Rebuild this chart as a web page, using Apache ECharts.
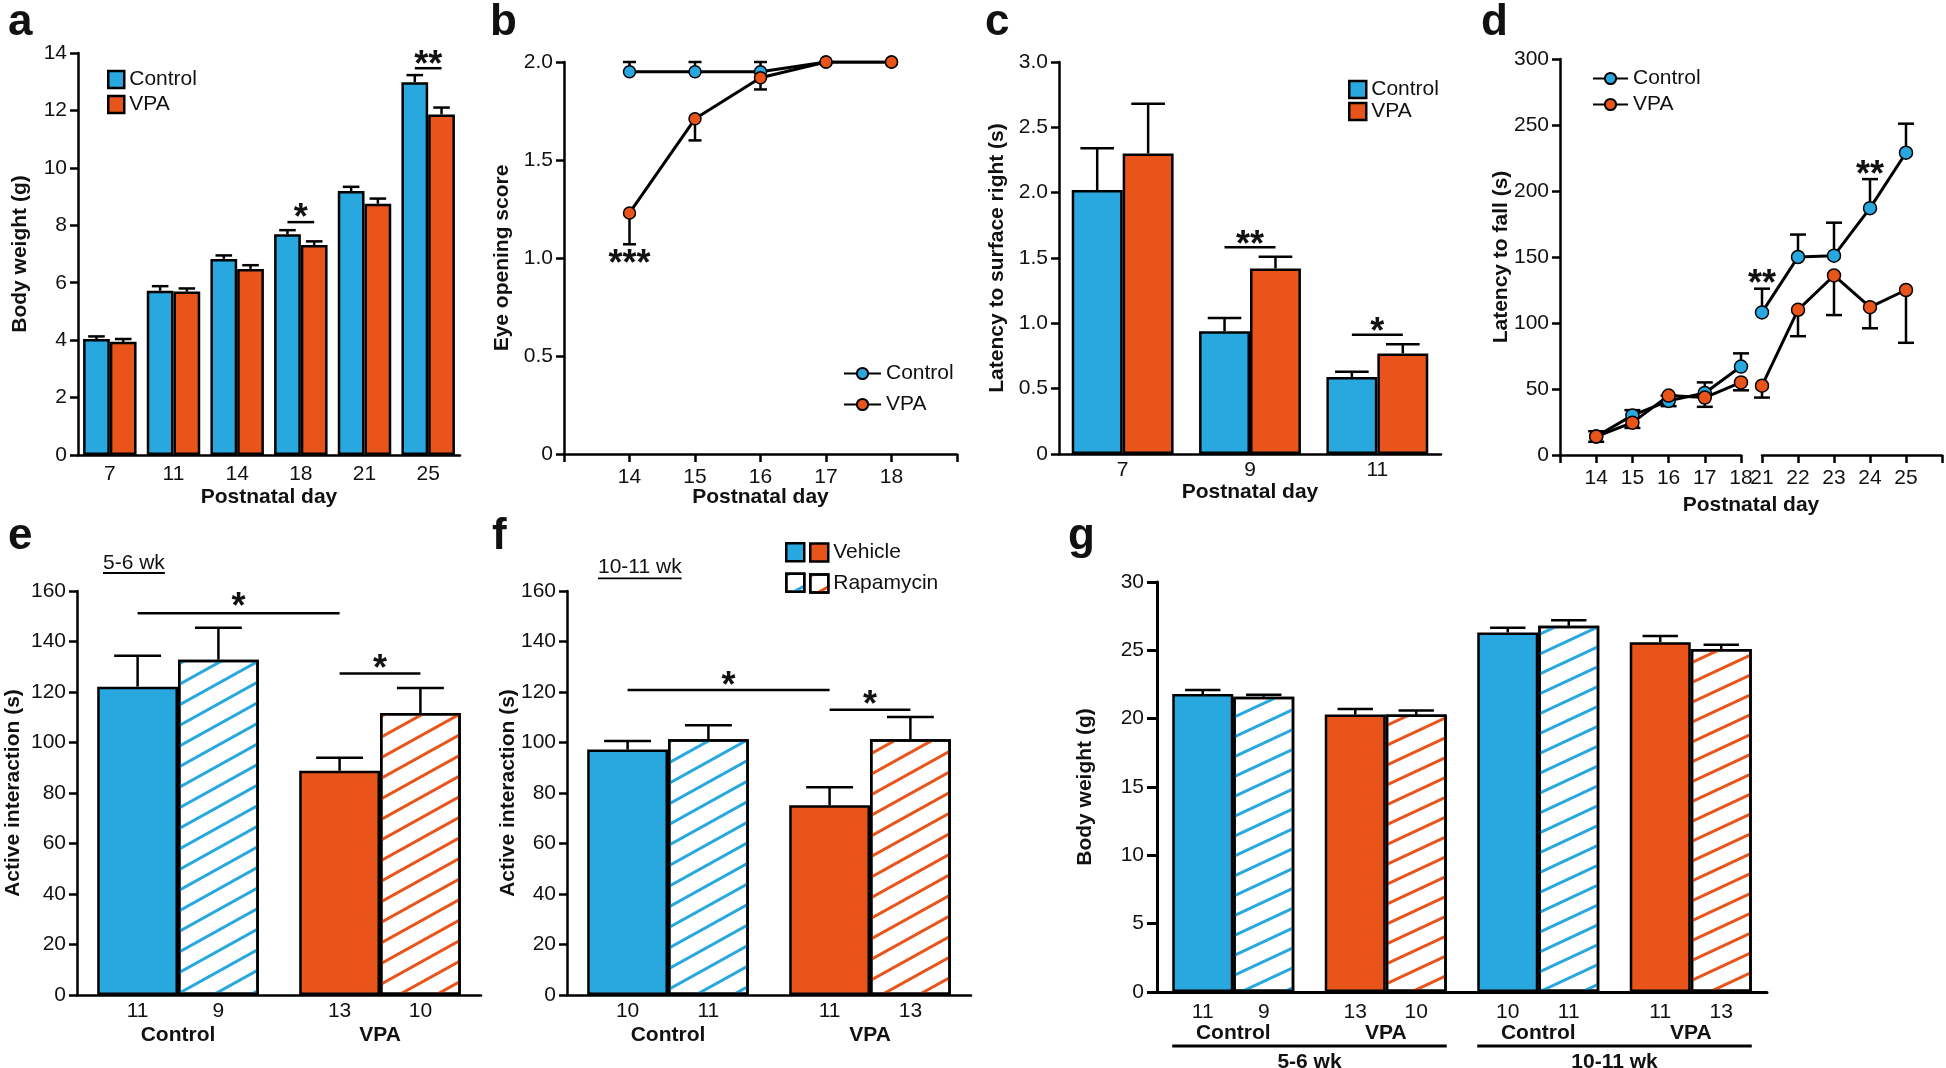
<!DOCTYPE html>
<html>
<head>
<meta charset="utf-8">
<script src="https://cdn.jsdelivr.net/npm/echarts@6/dist/echarts.min.js"></script>
<style>html,body{margin:0;padding:0;background:#fff}#c{width:1946px;height:1068px}</style>
</head>
<body>
<div id="c"></div>
<script>
// ================= DATA =================
// a: body weight by postnatal day
const aDays = ['7', '11', '14', '18', '21', '25'];
const aControl = [4.04, 5.72, 6.83, 7.69, 9.19, 12.98];
const aControlSem = [0.09, 0.16, 0.12, 0.14, 0.15, 0.25];
const aVPA = [3.94, 5.69, 6.48, 7.31, 8.75, 11.86];
const aVPASem = [0.10, 0.11, 0.13, 0.13, 0.18, 0.24];
// b: eye opening score
const bDays = [14, 15, 16, 17, 18];
const bControl = [1.95, 1.95, 1.95, 2.0, 2.0];
const bControlSem = [0.05, 0.05, 0.05, 0, 0];
const bVPA = [1.23, 1.71, 1.92, 2.0, 2.0];
const bVPASem = [0.16, 0.11, 0.06, 0, 0];
// c: latency to surface right
const cDays = ['7', '9', '11'];
const cControl = [2.02, 0.94, 0.59];
const cControlSem = [0.32, 0.10, 0.04];
const cVPA = [2.30, 1.42, 0.77];
const cVPASem = [0.38, 0.09, 0.07];
// d: latency to fall
const dDaysEarly = [14, 15, 16, 17, 18];
const dDaysLate = [21, 22, 23, 24, 25];
const dControlEarly = [14, 30, 41, 47, 67];
const dControlEarlySem = [4, 4, 4, 8, 10];
const dControlLate = [108, 150, 151, 187, 229];
const dControlLateSem = [18, 17, 25, 22, 22];
const dVPAEarly = [14, 24.5, 45, 43.5, 55];
const dVPAEarlySem = [4, 4, 8, 7, 6];
const dVPALate = [52.5, 110, 136, 112, 125];
const dVPALateSem = [9, 20, 30, 16, 40];
// e: active interaction, 5-6 wk
const eGroups = ['Control', 'VPA'];
const eVehicle = [122.1, 88.8];
const eVehicleSem = [12.3, 5.2];
const eRapa = [132.8, 111.7];
const eRapaSem = [12.6, 9.9];
const eNVehicle = [11, 13];
const eNRapa = [9, 10];
// f: active interaction, 10-11 wk
const fGroups = ['Control', 'VPA'];
const fVehicle = [97.2, 75.1];
const fVehicleSem = [3.4, 7.2];
const fRapa = [101.3, 101.3];
const fRapaSem = [5.5, 8.8];
const fNVehicle = [10, 11];
const fNRapa = [11, 13];
// g: body weight
const gGroups = ['Control', 'VPA', 'Control', 'VPA'];
const gAges = ['5-6 wk', '10-11 wk'];
const gVehicle = [21.8, 20.3, 26.3, 25.6];
const gVehicleSem = [0.3, 0.4, 0.35, 0.45];
const gRapa = [21.6, 20.3, 26.8, 25.1];
const gRapaSem = [0.15, 0.3, 0.4, 0.3];
const gNVehicle = [11, 13, 10, 11];
const gNRapa = [9, 10, 11, 13];

// ================= STYLE =================
const FONT = "'Liberation Sans', Arial, Helvetica, sans-serif";
const BLUE = '#29a8e0', ORANGE = '#e8541a', INK = '#111', BLK = '#000', LW = 2.5;
const STAR = 36;
const groupColor = g => g === 'Control' ? BLUE : ORANGE;

const lbl = extra => Object.assign({fontSize: 21, color: INK, fontFamily: FONT}, extra || {});
const nameStyle = {fontSize: 21, fontWeight: 'bold', color: INK, fontFamily: FONT};
const aLine = w => ({show: true, onZero: false, lineStyle: {color: BLK, width: w || LW}});
const fmt1 = v => v === 0 ? '0' : v.toFixed(1);

function valY(gi, max, interval, opts) {
  return Object.assign({
    type: 'value', gridIndex: gi, min: 0, max: max, interval: interval,
    axisLine: aLine(), axisTick: {show: true, length: 8, lineStyle: {color: BLK, width: LW}},
    axisLabel: lbl({margin: 11}), splitLine: {show: false},
    nameLocation: 'middle', nameTextStyle: nameStyle, nameMoveOverlap: false
  }, opts || {});
}
function catX(gi, data, margin, bold, opts) {
  return Object.assign({
    type: 'category', gridIndex: gi, data: data, boundaryGap: true,
    axisLine: aLine(), axisTick: {show: false},
    axisLabel: lbl({margin: margin, interval: 0, fontWeight: bold ? 'bold' : 'normal'}),
    splitLine: {show: false}, nameLocation: 'middle', nameTextStyle: nameStyle, nameMoveOverlap: false
  }, opts || {});
}
function valX(gi, min, max, fmt, opts) {
  return Object.assign({
    type: 'value', gridIndex: gi, min: min, max: max, interval: 1,
    axisLine: aLine(), axisTick: {show: true, length: 8, lineStyle: {color: BLK, width: LW}},
    axisLabel: lbl({margin: 13, formatter: fmt}), splitLine: {show: false},
    nameLocation: 'middle', nameTextStyle: nameStyle, nameMoveOverlap: false
  }, opts || {});
}

// ---------- series helpers ----------
function barSeries(name, xi, yi, data, color, gap, extra) {
  return Object.assign({
    type: 'bar', name: name, xAxisIndex: xi, yAxisIndex: yi, data: data,
    barGap: '0%', barCategoryGap: gap + '%', silent: true, z: 2,
    itemStyle: {color: color, borderColor: BLK, borderWidth: LW}
  }, extra || {});
}
function barErr(xi, yi, means, sems, slot, nSlots, gapPct, capFrac) {
  const data = [];
  means.forEach((m, i) => { if (typeof m === 'number') data.push([i, m, m + sems[i]]); });
  const gap = gapPct / 100;
  return {
    type: 'custom', xAxisIndex: xi, yAxisIndex: yi, data: data, z: 3, silent: true,
    encode: {x: 0, y: [1, 2]},
    renderItem: function (params, api) {
      const cat = api.value(0);
      const p0 = api.coord([cat, api.value(1)]), p1 = api.coord([cat, api.value(2)]);
      const band = api.size([1, 0])[0];
      const used = band * (1 - gap), bw = used / nSlots;
      const x = p0[0] - used / 2 + bw * (slot + 0.5);
      const cw = bw * capFrac / 2;
      return {type: 'group', children: [
        {type: 'line', shape: {x1: x, y1: p0[1], x2: x, y2: p1[1]}, style: {stroke: BLK, lineWidth: LW}},
        {type: 'line', shape: {x1: x - cw, y1: p1[1], x2: x + cw, y2: p1[1]}, style: {stroke: BLK, lineWidth: LW}}
      ]};
    }
  };
}
function lineSeries(name, xi, yi, xs, vals, color, size) {
  return {
    type: 'line', name: name, xAxisIndex: xi, yAxisIndex: yi, silent: true, z: 4,
    data: xs.map((x, i) => [x, vals[i]]),
    symbol: 'circle', symbolSize: size, showSymbol: true,
    lineStyle: {color: BLK, width: 3},
    itemStyle: {color: color, borderColor: BLK, borderWidth: 1.5}
  };
}
function lineErr(xi, yi, xs, vals, sems, dir, capPx) {
  const data = [];
  xs.forEach((x, i) => { if (sems[i] > 0) data.push([x, vals[i], vals[i] + dir * sems[i]]); });
  return {
    type: 'custom', xAxisIndex: xi, yAxisIndex: yi, data: data, z: 3, silent: true,
    encode: {x: 0, y: [1, 2]},
    renderItem: function (params, api) {
      const p0 = api.coord([api.value(0), api.value(1)]), p1 = api.coord([api.value(0), api.value(2)]);
      return {type: 'group', children: [
        {type: 'line', shape: {x1: p0[0], y1: p0[1], x2: p1[0], y2: p1[1]}, style: {stroke: BLK, lineWidth: LW}},
        {type: 'line', shape: {x1: p1[0] - capPx / 2, y1: p1[1], x2: p1[0] + capPx / 2, y2: p1[1]}, style: {stroke: BLK, lineWidth: LW}}
      ]};
    }
  };
}
function hatch(color, deg) {
  return {symbol: 'rect', symbolSize: 1, color: color, dashArrayX: [1, 0], dashArrayY: [3, 15],
          rotation: -deg * Math.PI / 180};
}
// treatment panels: vehicle (solid) and rapamycin (hatched) per group
function treatSeries(prefix, xi, yi, groups, veh, vehSem, rapa, rapaSem, nVeh, nRapa, gap, deg, labelOffset) {
  const out = [];
  const nLabel = arr => ({
    show: true, position: ['50%', '100%'], offset: [0, labelOffset], align: 'center', verticalAlign: 'middle',
    fontSize: 21, color: INK, fontFamily: FONT, formatter: p => String(arr[p.dataIndex])
  });
  [[BLUE, 'B'], [ORANGE, 'O']].forEach(([col, key]) => {
    const vData = veh.map((v, i) => groupColor(groups[i]) === col ? v : '-');
    const rData = rapa.map((v, i) => groupColor(groups[i]) === col ? v : '-');
    out.push(barSeries(prefix + 'V' + key, xi, yi, vData, col, gap, {stack: prefix + 'veh', label: nLabel(nVeh)}));
    out.push(barSeries(prefix + 'R' + key, xi, yi, rData, '#fff', gap, {
      stack: prefix + 'rapa', label: nLabel(nRapa),
      itemStyle: {color: '#fff', borderColor: BLK, borderWidth: LW, decal: hatch(col, deg)}
    }));
  });
  out.push(barErr(xi, yi, veh, vehSem, 0, 2, gap, 0.58));
  out.push(barErr(xi, yi, rapa, rapaSem, 1, 2, gap, 0.58));
  return out;
}

// ================= OPTION =================
const grid = [
  {left: 78, top: 53, width: 382, height: 402},    // a
  {left: 564, top: 62, width: 393, height: 392},   // b
  {left: 1059, top: 62, width: 382, height: 392},  // c
  {left: 1560, top: 59, width: 181, height: 396},  // d early
  {left: 1762, top: 59, width: 180, height: 396},  // d late
  {left: 77, top: 591, width: 404, height: 404},   // e
  {left: 567, top: 591, width: 404, height: 404},  // f
  {left: 1157, top: 582, width: 610, height: 410}  // g
].map(g => Object.assign({containLabel: false, outerBoundsMode: 'none'}, g));

const xAxis = [
  catX(0, aDays, 9, false, {name: 'Postnatal day', nameGap: 32}),
  valX(1, 13, 19, v => (v >= 14 && v <= 18) ? String(v) : '', {name: 'Postnatal day', nameGap: 33}),
  catX(2, cDays, 6, false, {name: 'Postnatal day', nameGap: 28}),
  valX(3, 13, 18, v => v >= 14 ? String(v) : ''),
  valX(4, 21, 26, v => v <= 25 ? String(v) : ''),
  catX(5, eGroups, 29.5, true),
  catX(6, fGroups, 29.5, true),
  catX(7, gGroups, 31, true, {position: 'bottom', axisLine: aLine(3)}),
  catX(7, gAges, 60, true, {position: 'bottom', axisLine: {show: false}})
];
const yAxis = [
  valY(0, 14, 2, {name: 'Body weight (g)', nameGap: 47}),
  valY(1, 2, 0.5, {name: 'Eye opening score', nameGap: 51, axisLabel: lbl({margin: 11, formatter: fmt1})}),
  valY(2, 3, 0.5, {name: 'Latency to surface right (s)', nameGap: 51, axisLabel: lbl({margin: 11, formatter: fmt1})}),
  valY(3, 300, 50, {name: 'Latency to fall (s)', nameGap: 48}),
  {type: 'value', gridIndex: 4, min: 0, max: 300, show: false},
  valY(5, 160, 20, {name: 'Active interaction (s)', nameGap: 53}),
  valY(6, 160, 20, {name: 'Active interaction (s)', nameGap: 48}),
  valY(7, 30, 5, {name: 'Body weight (g)', nameGap: 61, axisLine: aLine(3),
    axisTick: {show: true, length: 10, lineStyle: {color: BLK, width: 3}}, axisLabel: lbl({margin: 13})})
];

const series = [].concat(
  // a
  barSeries('Control', 0, 0, aControl, BLUE, 16),
  barSeries('VPA', 0, 0, aVPA, ORANGE, 16),
  barErr(0, 0, aControl, aControlSem, 0, 2, 16, 0.62),
  barErr(0, 0, aVPA, aVPASem, 1, 2, 16, 0.62),
  // b
  lineErr(1, 1, bDays, bControl, bControlSem, 1, 13),
  lineErr(1, 1, bDays, bVPA, bVPASem, -1, 13),
  lineSeries('Control ', 1, 1, bDays, bControl, BLUE, 12),
  lineSeries('VPA ', 1, 1, bDays, bVPA, ORANGE, 12),
  // c
  barSeries('Control  ', 2, 2, cControl, BLUE, 20),
  barSeries('VPA  ', 2, 2, cVPA, ORANGE, 20),
  barErr(2, 2, cControl, cControlSem, 0, 2, 20, 0.66),
  barErr(2, 2, cVPA, cVPASem, 1, 2, 20, 0.66),
  // d
  lineErr(3, 3, dDaysEarly, dControlEarly, dControlEarlySem, 1, 16),
  lineErr(4, 4, dDaysLate, dControlLate, dControlLateSem, 1, 16),
  lineErr(3, 3, dDaysEarly, dVPAEarly, dVPAEarlySem, -1, 16),
  lineErr(4, 4, dDaysLate, dVPALate, dVPALateSem, -1, 16),
  lineSeries('Control   ', 3, 3, dDaysEarly, dControlEarly, BLUE, 13),
  lineSeries('Control   ', 4, 4, dDaysLate, dControlLate, BLUE, 13),
  lineSeries('VPA   ', 3, 3, dDaysEarly, dVPAEarly, ORANGE, 13),
  lineSeries('VPA   ', 4, 4, dDaysLate, dVPALate, ORANGE, 13),
  // e, f, g
  treatSeries('e', 5, 5, eGroups, eVehicle, eVehicleSem, eRapa, eRapaSem, eNVehicle, eNRapa, 20, 29, 16),
  treatSeries('f', 6, 6, fGroups, fVehicle, fVehicleSem, fRapa, fRapaSem, fNVehicle, fNRapa, 20, 29, 16),
  treatSeries('g', 7, 7, gGroups, gVehicle, gVehicleSem, gRapa, gRapaSem, gNVehicle, gNRapa, 20, 25, 20)
);

const trim = n => n.trim();
const legTxt = lh => ({fontSize: 21, color: INK, fontFamily: FONT, lineHeight: lh});
const legend = [
  {data: ['Control', 'VPA'], left: 107, top: 69, orient: 'vertical', padding: 0, selectedMode: false, icon: 'rect',
   itemWidth: 16, itemHeight: 17, itemGap: 4, textStyle: legTxt(17), itemStyle: {borderColor: BLK, borderWidth: LW}},
  {data: ['Control ', 'VPA '], left: 843, top: 363, orient: 'vertical', padding: 0, selectedMode: false,
   itemWidth: 37, itemHeight: 14, itemGap: 10, textStyle: legTxt(21), formatter: trim},
  {data: ['Control  ', 'VPA  '], left: 1348, top: 79, orient: 'vertical', padding: 0, selectedMode: false, icon: 'rect',
   itemWidth: 17, itemHeight: 17, itemGap: 1, textStyle: legTxt(17), formatter: trim, itemStyle: {borderColor: BLK, borderWidth: LW}},
  {data: ['Control   ', 'VPA   '], left: 1592, top: 68, orient: 'vertical', padding: 0, selectedMode: false,
   itemWidth: 35, itemHeight: 14, itemGap: 5, textStyle: legTxt(21), formatter: trim},
  {data: ['fVB', 'fRB'], left: 785, top: 542, orient: 'vertical', padding: 0, selectedMode: false, icon: 'rect',
   itemWidth: 18, itemHeight: 18, itemGap: 10, textStyle: legTxt(18), formatter: () => '',
   itemStyle: {borderColor: BLK, borderWidth: LW}},
  {data: ['fVO', 'fRO'], left: 809, top: 542, orient: 'vertical', padding: 0, selectedMode: false, icon: 'rect',
   itemWidth: 18, itemHeight: 18, itemGap: 10, textStyle: legTxt(18),
   formatter: n => ({fVO: 'Vehicle', fRO: 'Rapamycin'})[n], itemStyle: {borderColor: BLK, borderWidth: LW}}
];

const option = {
  animation: false, backgroundColor: '#fff',
  textStyle: {fontFamily: FONT},
  grid: grid, xAxis: xAxis, yAxis: yAxis, series: series, legend: legend
};

const chart = echarts.init(document.getElementById('c'), null, {renderer: 'canvas', width: 1946, height: 1068});
chart.setOption(option);

// ================= ANNOTATIONS (positioned through the axes) =================
const X = (xi, v) => chart.convertToPixel({xAxisIndex: xi}, v);
const Y = (yi, v) => chart.convertToPixel({yAxisIndex: yi}, v);
function slotGeom(xi, cat, slot, nSlots, gapPct) {
  const band = X(xi, 1) - X(xi, 0);
  const used = band * (1 - gapPct / 100), bw = used / nSlots;
  const c = X(xi, cat) - used / 2 + bw * (slot + 0.5);
  return {c: c, l: c - bw / 2, r: c + bw / 2};
}
const G = [];
const starY = y => y + 0.24 * STAR;
function star(x, y, text) {
  G.push({type: 'text', x: x, y: starY(y), silent: true, z: 10,
    style: {text: text, fontSize: STAR, fontWeight: 'bold', fontFamily: FONT, fill: INK, align: 'center', verticalAlign: 'middle'}});
}
function hline(x1, x2, y, w) {
  G.push({type: 'line', silent: true, z: 10, shape: {x1: x1, y1: y, x2: x2, y2: y}, style: {stroke: BLK, lineWidth: w || LW}});
}
function bracket(xi, yi, gapPct, from, to, lineV, text, starV) {
  const x1 = slotGeom(xi, from[0], from[1], 2, gapPct).c, x2 = slotGeom(xi, to[0], to[1], 2, gapPct).c;
  hline(x1, x2, Y(yi, lineV));
  star((x1 + x2) / 2, Y(yi, starV), text);
}
function text(str, x, y, size, bold, align) {
  G.push({type: 'text', x: x, y: y, silent: true, z: 10,
    style: {text: str, fontSize: size, fontWeight: bold ? 'bold' : 'normal', fontFamily: FONT, fill: INK,
            align: align || 'left', verticalAlign: 'middle'}});
}
const measure = (() => { const ctx = document.createElement('canvas').getContext('2d');
  return (str, size, bold) => { ctx.font = (bold ? 'bold ' : '') + size + 'px ' + FONT; return ctx.measureText(str).width; }; })();
function letter(ch, x, baseline) { text(ch, x, baseline - 0.3465 * 44, 44, true, 'left'); }

// significance
bracket(0, 0, 16, [3, 0], [3, 1], 8.11, '*', 8.53);
bracket(0, 0, 16, [5, 0], [5, 1], 13.47, '**', 13.86);
star(X(1, 14), Y(1, 1.007), '***');
bracket(2, 2, 20, [1, 0], [1, 1], 1.583, '**', 1.655);
bracket(2, 2, 20, [2, 0], [2, 1], 0.913, '*', 0.988);
star(X(4, 21), Y(4, 135), '**');
star(X(4, 24), Y(4, 217.5), '**');
bracket(5, 5, 20, [0, 0], [1, 0], 151.2, '*', 156.6);
bracket(5, 5, 20, [1, 0], [1, 1], 127.3, '*', 132.1);
bracket(6, 6, 20, [0, 0], [1, 0], 120.8, '*', 125.4);
bracket(6, 6, 20, [1, 0], [1, 1], 113.0, '*', 117.9);

// d x-axis title spanning both segments
text('Postnatal day', (X(3, 13) + X(4, 26)) / 2, 505, 21, true, 'center');

// age labels in e and f
[['5-6 wk', 103, 563.6, 573], ['10-11 wk', 598, 567, 578.4]].forEach(([s, x, y, uy]) => {
  text(s, x, y, 21, false, 'left');
  hline(x, x + measure(s, 21, false), uy, 1.8);
});
// g group underlines
const gBase = Y(7, 0);
hline(slotGeom(7, 0, 0, 2, 20).l, slotGeom(7, 1, 1, 2, 20).r, gBase + 54, 3);
hline(slotGeom(7, 2, 0, 2, 20).l, slotGeom(7, 3, 1, 2, 20).r, gBase + 54, 3);

// panel letters
letter('a', 8, 38); letter('b', 490, 38); letter('c', 985, 38); letter('d', 1481, 38);
letter('e', 8, 552); letter('f', 492, 552); letter('g', 1068, 552);

chart.setOption({graphic: G});
</script>
</body>
</html>
